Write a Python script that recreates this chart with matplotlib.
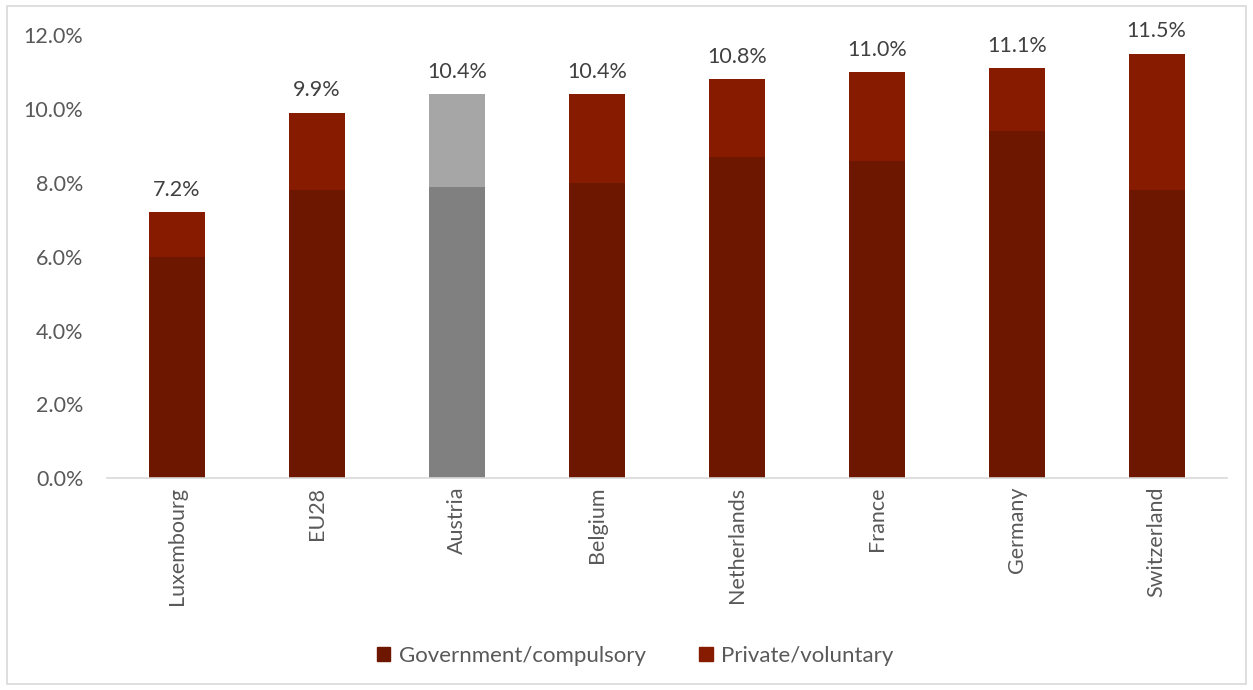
''' Stacked bar chart of health spending as a share of GDP, split by financing scheme. '''
import matplotlib.pyplot as plt
from matplotlib.patches import Rectangle
from matplotlib.ticker import PercentFormatter
import numpy as np

countries = ['Luxembourg', 'EU28', 'Austria', 'Belgium', 'Netherlands',
             'France', 'Germany', 'Switzerland']
government = [6.0, 7.8, 7.9, 8.0, 8.7, 8.6, 9.4, 7.8]
totals = [7.2, 9.9, 10.4, 10.4, 10.8, 11.0, 11.1, 11.5]
private = [round(t - g, 1) for t, g in zip(totals, government)]

highlight = 'Austria'

plt.rcParams['font.family'] = ['Lato', 'DejaVu Sans']

gov_color, priv_color = '#6D1600', '#861B00'
gov_grey, priv_grey = '#808080', '#A6A6A6'

fig = plt.figure(figsize=(12.53, 6.9), dpi=100)
ax = fig.add_axes([0.0854, 0.307, 0.8936, 0.642])

x = np.arange(len(countries))
gcols = [gov_grey if c == highlight else gov_color for c in countries]
pcols = [priv_grey if c == highlight else priv_color for c in countries]

ax.bar(x, government, width=0.4, color=gcols, label='Government/compulsory')
ax.bar(x, private, width=0.4, bottom=government, color=pcols,
       label='Private/voluntary')

for xi, tot in zip(x, totals):
    ax.annotate(f'{tot:.1f}%', (xi, tot), xytext=(0, 9), textcoords='offset points',
                ha='center', va='bottom', fontsize=15.5, color='#404040')

ax.set_xlim(-0.5, len(countries) - 0.5)
ax.set_ylim(0, 12)
ax.set_yticks(np.arange(0, 12.1, 2))
ax.yaxis.set_major_formatter(PercentFormatter(decimals=1))
ax.set_xticks(x)
ax.set_xticklabels(countries, rotation=90)
ax.tick_params(axis='both', length=0, labelsize=15.5, labelcolor='#595959')
ax.tick_params(axis='y', pad=17)
ax.tick_params(axis='x', pad=6)
for side in ['top', 'right', 'left']:
    ax.spines[side].set_visible(False)
ax.spines['bottom'].set_color('#D9D9D9')
ax.spines['bottom'].set_linewidth(1.2)

leg = fig.legend(loc='center', bbox_to_anchor=(0.507, 0.05), ncol=2, frameon=False,
                 fontsize=16, handlelength=0.6, handleheight=0.6,
                 handletextpad=0.4, columnspacing=2.4)
for t in leg.get_texts():
    t.set_color('#595959')
# legend swatches in the series colours even though Austria is greyed
leg.legend_handles[0].set_color(gov_color)
leg.legend_handles[1].set_color(priv_color)

fig.patches.append(Rectangle((0.0056, 0.008), 0.989, 0.983, transform=fig.transFigure,
                             fill=False, edgecolor='#D9D9D9', linewidth=1.2))

plt.savefig('out.png', dpi=100)
